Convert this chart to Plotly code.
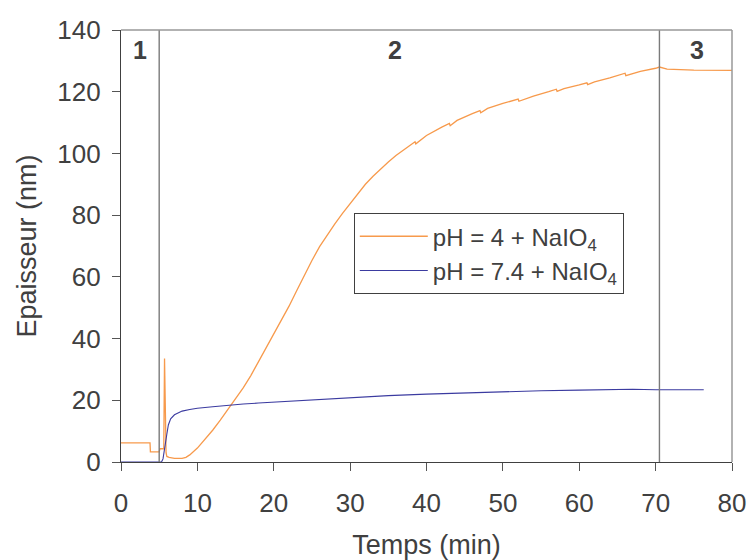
import plotly.graph_objects as go

# Orange series: pH = 4 + NaIO4
t_ph4 = [0, 3.8, 3.85, 5.0, 5.1, 5.6, 5.7, 5.8, 5.9, 6.0, 6.3, 7, 8, 8.5, 9, 10, 11, 12, 13, 14,
         15, 16, 17, 18, 19, 20, 21, 22, 23, 24, 25, 26, 27, 28, 29, 30, 31, 32, 33, 34, 35, 36,
         37, 38, 38.5, 38.6, 40, 42, 43, 43.1, 44, 46, 47, 47.1, 48, 50, 52, 52.1, 54, 56, 57,
         57.1, 58, 60, 61, 61.1, 62, 64, 66, 66.1, 68, 70, 70.5, 71.5, 75, 80]
y_ph4 = [6.2, 6.2, 3.3, 3.3, 4.3, 4.3, 33.5, 12, 3, 1.8, 1.5, 1.2, 1.2, 1.5, 2.3, 4.5, 7.3, 10.3,
         13.6, 17, 20.4, 24, 28, 32.5, 37, 41.5, 46, 50.5, 55.5, 60.5, 65.3, 69.8, 73.6, 77.2,
         80.6, 83.8, 87, 90, 92.6, 95, 97.2, 99.3, 101.2, 103, 103.8, 103.1, 105.8, 108.5,
         109.7, 109.0, 110.7, 112.9, 113.9, 113.2, 114.6, 116.2, 117.6, 116.9, 118.6, 120,
         120.8, 120.1, 121, 122.2, 122.9, 122.3, 123.2, 124.5, 126, 125.2, 126.6, 127.6, 128,
         127.3, 127, 126.9]

# Blue series: pH = 7.4 + NaIO4
t_ph74 = [0, 5.3, 5.5, 5.8, 6.0, 6.2, 6.5, 7, 7.5, 8, 9, 10, 12, 14, 16, 18, 20, 25, 30, 35,
          40, 45, 50, 55, 60, 65, 67, 70, 76.3]
y_ph74 = [0, 0, 1, 5, 9, 12, 14, 15.3, 16, 16.5, 17, 17.4, 17.9, 18.4, 18.8, 19.1, 19.4, 20.2,
          20.9, 21.5, 22, 22.4, 22.8, 23.1, 23.3, 23.5, 23.6, 23.4, 23.4]

phase_lines = [5.0, 70.5]
phase_labels = ["1", "2", "3"]
phase_label_x = [2.5, 35.9, 75.4]

x_ticks = [0, 10, 20, 30, 40, 50, 60, 70, 80]
y_ticks = [0, 20, 40, 60, 80, 100, 120, 140]

FONT = "Liberation Sans, Arial, sans-serif"
TXT = "#404040"

fig = go.Figure()
fig.add_trace(go.Scatter(x=t_ph4, y=y_ph4, mode="lines", name="pH = 4 + NaIO<sub>4</sub>",
                         line=dict(color="#f79a4c", width=1.3)))
fig.add_trace(go.Scatter(x=t_ph74, y=y_ph74, mode="lines", name="pH = 7.4 + NaIO<sub>4</sub>",
                         line=dict(color="#3b3ba0", width=1.1)))

for xv in phase_lines:
    fig.add_shape(type="line", xref="x", yref="paper", x0=xv, x1=xv, y0=0, y1=1,
                  line=dict(color="#7a7a7a", width=1.4))

# top and right frame lines (lighter grey)
fig.add_shape(type="line", xref="paper", yref="paper", x0=0, x1=1, y0=1, y1=1,
              line=dict(color="#999999", width=1.5))
fig.add_shape(type="line", xref="paper", yref="paper", x0=1, x1=1, y0=0, y1=1,
              line=dict(color="#999999", width=1.5))

for lab, xv in zip(phase_labels, phase_label_x):
    fig.add_annotation(x=xv, y=133.5, xref="x", yref="y", text="<b>" + lab + "</b>",
                       showarrow=False, font=dict(size=25, color=TXT, family=FONT))

tick_font = dict(size=26, color=TXT, family=FONT)
title_font = dict(size=27, color=TXT, family=FONT)
fig.update_layout(
    width=747, height=560,
    margin=dict(l=121, r=15, t=30, b=98, autoexpand=False),
    plot_bgcolor="white", paper_bgcolor="white",
    font=dict(family=FONT, color=TXT, size=20),
    showlegend=True,
    legend=dict(x=0.381, y=0.576, xanchor="left", yanchor="top",
                bgcolor="white", bordercolor="#404040", borderwidth=1,
                font=dict(size=24, color=TXT, family=FONT),
                itemwidth=68, tracegroupgap=0),
    xaxis=dict(range=[0, 80], tickvals=x_ticks, ticks="outside", ticklen=8, tickcolor="#555555",
               showline=True, linecolor="#404040", linewidth=1.3, showgrid=False,
               zeroline=False, tickfont=tick_font, ticklabelstandoff=10,
               ticklabeloverflow="allow", automargin=False,
               title=dict(text="Temps (min)", font=title_font, standoff=20)),
    yaxis=dict(range=[0, 140], tickvals=y_ticks, ticks="outside", ticklen=8, tickcolor="#555555",
               showline=True, linecolor="#404040", linewidth=1.3, showgrid=False,
               zeroline=False, tickfont=tick_font, ticklabelstandoff=6, automargin=False,
               title=dict(text="Epaisseur (nm)", font=title_font, standoff=12)),
)

fig.write_html("out.html", config={"displayModeBar": False},
               post_script="document.body.style.margin='0';")
